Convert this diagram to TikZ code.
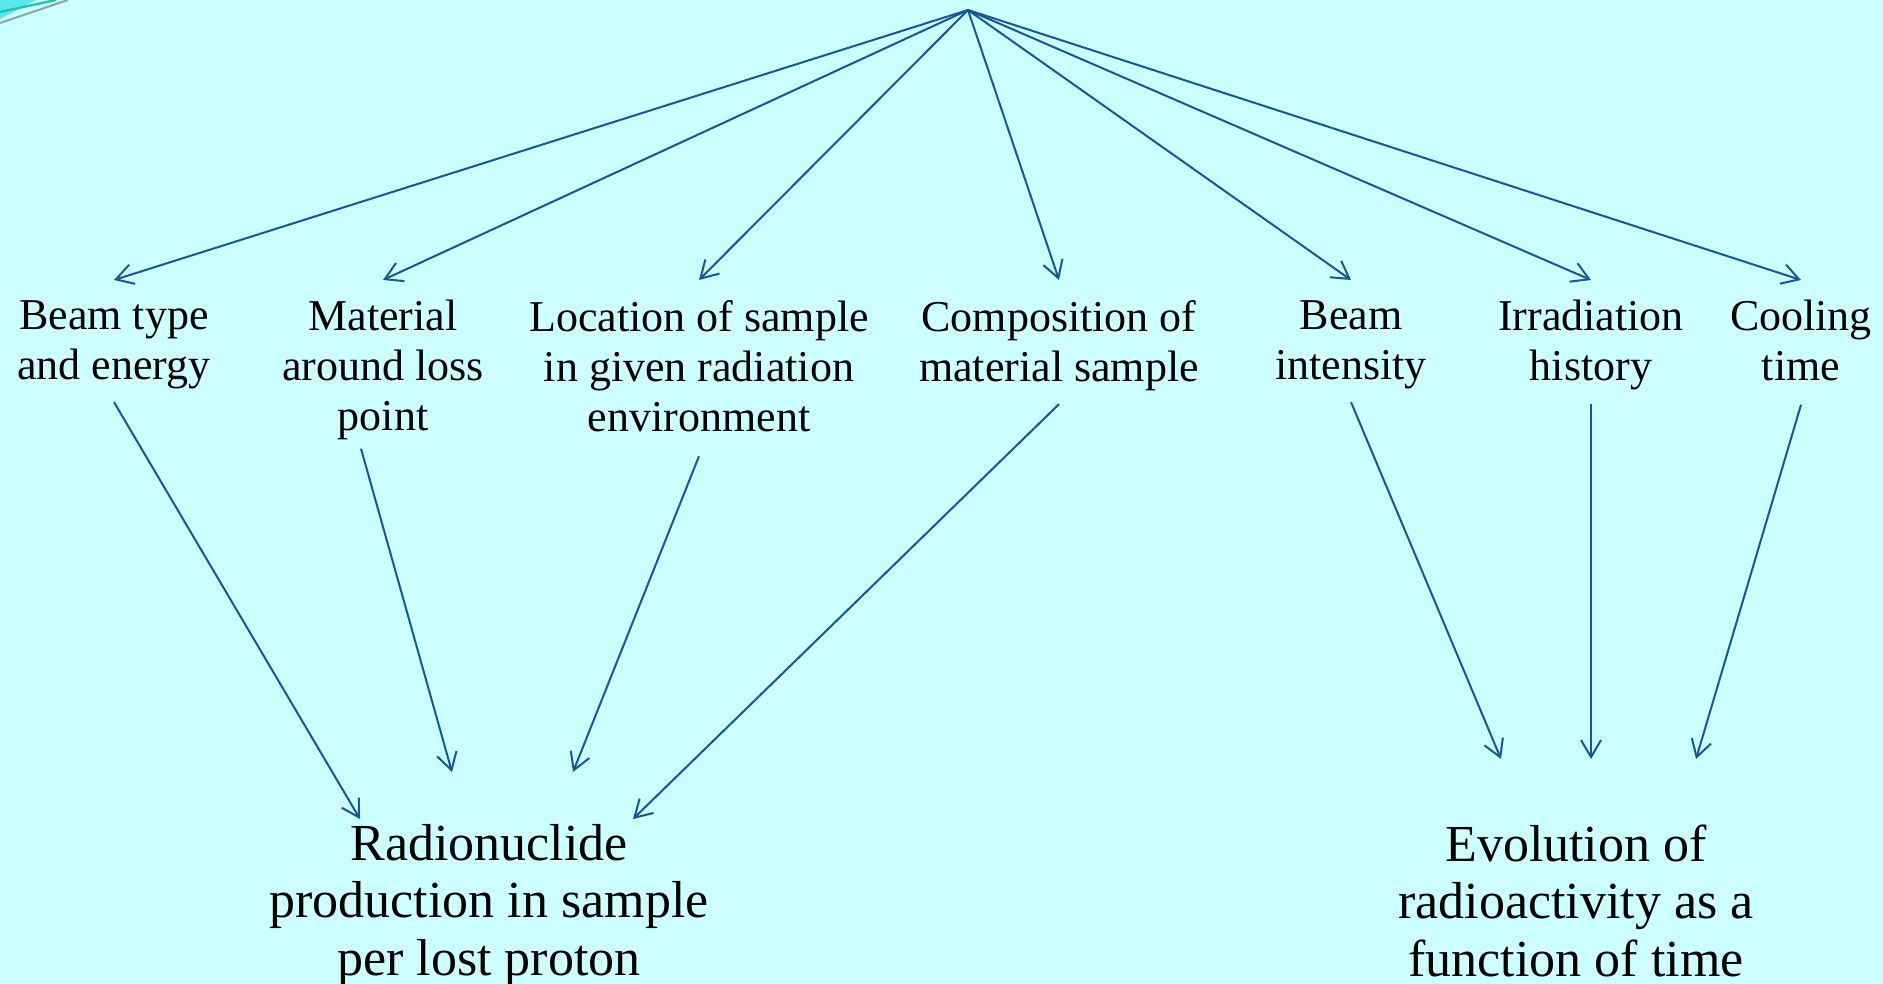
\documentclass[tikz,border=0pt]{standalone}
\usepackage{fontspec}
\setmainfont{Liberation Serif}
\usetikzlibrary{arrows.meta,calc}
\definecolor{slidebg}{RGB}{204,255,255}
\definecolor{arrowblue}{RGB}{22,86,156}
\definecolor{cornercyan}{RGB}{92,230,240}
\definecolor{cornergreen}{RGB}{30,200,160}
\definecolor{cornergrey}{RGB}{140,165,170}
\tikzset{
  factor/.style={align=center,inner sep=0pt,anchor=north,font=\fontsize{22}{25}\selectfont},
  result/.style={align=center,inner sep=0pt,anchor=north,font=\fontsize{26}{28.75}\selectfont},
  link/.style={draw=arrowblue,line width=1pt,-{Straight Barb[length=8.5pt,width=10pt]}}
}
\begin{document}
\begin{tikzpicture}[x=0.5pt,y=-0.5pt]
  \useasboundingbox (0,0) rectangle (1883,984);
  \fill[slidebg] (0,0) rectangle (1883,984);
  % slide swoosh in the corner
  \fill[cornercyan] (0,0) -- (36,0) -- (0,19) -- cycle;
  \draw[cornergreen,line width=1.2pt] (0,12) -- (56,0);
  \draw[cornergrey,line width=1pt] (0,23) -- (68,0);

  \coordinate (top) at (968,10);
  % what the activation depends on
  \node[factor] (beam) at (114,300) {Beam type\\and energy};
  \node[factor] (mat) at (383,300) {Material\\around loss\\point};
  \node[factor] (loc) at (699,300) {Location of sample\\in given radiation\\environment};
  \node[factor] (comp) at (1059,300) {Composition of\\material sample};
  \node[factor] (inten) at (1351,300) {Beam\\intensity};
  \node[factor] (irr) at (1591,300) {Irradiation\\history};
  \node[factor] (cool) at (1801,300) {Cooling\\time};
  % results
  \node[result] (rad) at (489,824) {Radionuclide\\production in sample\\per lost proton};
  \node[result] (evo) at (1576,824) {Evolution of\\radioactivity as a\\function of time};

  \foreach \n in {beam,mat,loc,comp,inten,irr,cool}
    \draw[link] (top) -- ($(\n.north)+(0,-20)$);

  \draw[link] ($(beam.south)+(0,13)$) -- ($(rad.north)+(-129,-5)$);
  \draw[link] ($(mat.south)+(-22,8)$) -- ($(rad.north)+(-37,-52)$);
  \draw[link] ($(loc.south)+(0,24)$) -- ($(rad.north)+(84,-52)$);
  \draw[link] ($(comp.south)+(0,13)$) -- ($(rad.north)+(144,-5)$);
  \draw[link] ($(inten.south)+(0,13)$) -- ($(evo.north)+(-75,-65)$);
  \draw[link] ($(irr.south)+(0,13)$) -- ($(evo.north)+(15,-65)$);
  \draw[link] ($(cool.south)+(0,23)$) -- ($(evo.north)+(120,-65)$);
\end{tikzpicture}
\end{document}
